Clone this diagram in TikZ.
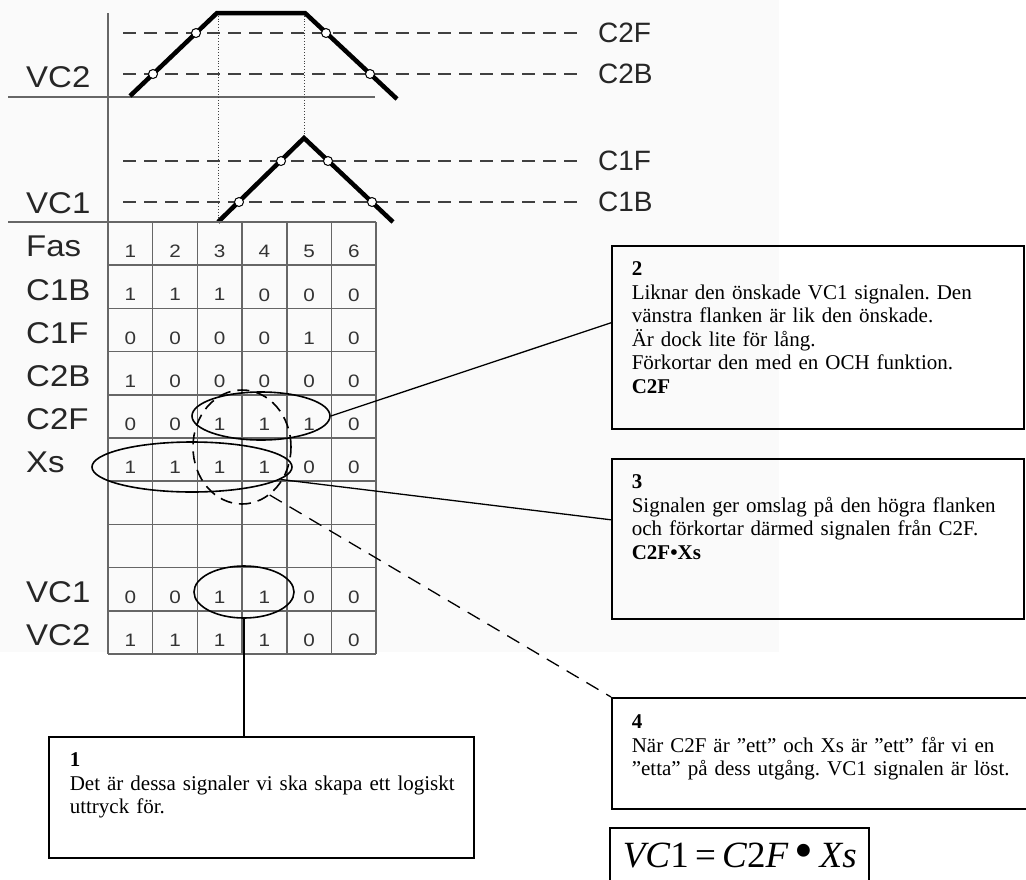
\documentclass[tikz,border=0pt]{standalone}
\usepackage{fontspec}
\setmainfont{Liberation Serif}
\newfontfamily\arial{Liberation Sans}
\usetikzlibrary{shapes.geometric,calc}
\frenchspacing
\hyphenpenalty=10000
\exhyphenpenalty=10000
\tikzset{axis/.style={draw=black!60,line width=1.5pt},
 thresh/.style={draw=black!75,line width=1.6pt,dash pattern=on 13pt off 8pt},
 wave/.style={line width=4.5pt},
 tap/.style={circle,draw,fill=white,line width=1pt,inner sep=0pt,minimum size=9pt},
 sig/.style={font=\arial\fontsize{28}{30}\selectfont,text=black!85},
 rowlbl/.style={font=\arial\fontsize{30}{32}\selectfont,text=black!85,anchor=west,inner sep=0pt},
 digit/.style={font=\arial\fontsize{18}{20}\selectfont,text=black!80,inner sep=0pt},
 ring/.style={ellipse,draw,line width=1.6pt,inner sep=0pt},
 note/.style={draw,line width=1.6pt,anchor=north west,align=left,inner xsep=20pt,inner ysep=0pt,font=\fontsize{21}{23.5}\selectfont},
 link/.style={line width=1.3pt}}

\begin{document}
\begin{tikzpicture}[x=1pt,y=-1pt]
\useasboundingbox (0,0) rectangle (1026,879);
\fill[black!2] (0,0) rectangle (779,652);

\draw[axis] (108,13) -- (108,222);
\draw[axis] (8,97) -- (375,97);
\draw[axis] (8,222) -- (108,222);
\foreach \y/\t in {33/C2F,74/C2B,161/C1F,202/C1B}{
  \draw[thresh] (123,\y) -- (577,\y);
  \node[sig,anchor=west,inner sep=0pt] (lv\t) at (598,\y) {\t};
}
\node[rowlbl] (vc2) at (26,77) {\scalebox{1.1}[1]{VC2}};
\node[rowlbl] (vc1) at (26,203) {\scalebox{1.1}[1]{VC1}};
\draw[black!75,line width=0.8pt,dotted] (218,13) -- (218,222);
\draw[black!75,line width=0.8pt,dotted] (304,13) -- (304,138);
\draw[wave] (130,96) -- (217,13) -- (305,13) -- (397,99);
\draw[wave] (218,222) -- (304,138) -- (393,222);
\foreach \x/\y [count=\k] in {196/33,153/74,326/33,370/74,281/161,239/202,328/161,372/202}
  \node[tap] (tap\k) at (\x,\y) {};

\foreach \i in {0,...,10}
  \draw[axis] (108,{222+43.2*\i}) -- (376,{222+43.2*\i});
\foreach \j in {0,...,6}
  \draw[axis] ({108+44.7*\j},222) -- ({108+44.7*\j},654);
\foreach \r/\lbl/\vals in {1/Fas/{1,2,3,4,5,6},2/C1B/{1,1,1,0,0,0},3/C1F/{0,0,0,0,1,0},
  4/C2B/{1,0,0,0,0,0},5/C2F/{0,0,1,1,1,0},6/Xs/{1,1,1,1,0,0},9/VC1/{0,0,1,1,0,0},10/VC2/{1,1,1,1,0,0}}{
  \node[rowlbl] (lbl\r) at (26,{222+43.2*(\r-0.5)+3}) {\scalebox{1.1}[1]{\lbl}};
  \foreach \v [count=\c] in \vals
    \node[digit] (d\r-\c) at ({108+44.7*(\c-0.5)},{222+43.2*(\r-0.5)+8}) {\scalebox{1.15}[1]{\v}};
}

\node[ring,minimum width=138pt,minimum height=48pt] (ringC) at (261,416) {};
\node[ring,minimum width=200pt,minimum height=50pt] (ringX) at (192,467) {};
\node[ring,dash pattern=on 12pt off 7pt,minimum width=98pt,minimum height=114pt] (ringD) at (242,447) {};
\node[ring,minimum width=100pt,minimum height=52pt] (ringV) at (244,592) {};

\node[note,text width=372pt,text height=30pt,text depth=153pt] (n2) at (611,245)
  {\textbf{2}\\Liknar den önskade VC1 signalen. Den\\vänstra flanken är lik den önskade.\\Är dock lite för lång.\\Förkortar den med en OCH funktion.\\\textbf{C2F}};
\node[note,text width=372pt,text height=30pt,text depth=130pt] (n3) at (611,458)
  {\textbf{3}\\Signalen ger omslag på den högra flanken\\och förkortar därmed signalen från C2F.\\\textbf{C2F•Xs}};
\node[note,text width=390pt,text height=31pt,text depth=80pt] (n4) at (611,697)
  {\textbf{4}\\När C2F är ”ett” och Xs är ”ett” får vi en\\”etta” på dess utgång. VC1 signalen är löst.};
\node[note,inner xsep=21pt,text width=383pt,text height=30pt,text depth=91pt] (n1) at (48,736)
  {\textbf{1}\\\mbox{Det är dessa signaler vi ska skapa ett logiskt}\\uttryck för.};
\node[note,inner xsep=13pt,text width=233pt,text height=40pt,text depth=40pt,font=\fontsize{37}{40}\selectfont] (nf) at (609,827)
  {\textit{VC}1\,=\,\textit{C}2\textit{F}\,\raisebox{-1pt}{\scalebox{1.45}{•}}\,\textit{Xs}};

\draw[link] (ringC.east) -- ([yshift=14.5pt]n2.west);
\draw[link] (ringX.-8) -- ([yshift=19pt]n3.west);
\draw[link,dash pattern=on 14pt off 9pt] (ringD.-60) -- (n4.north west);
\draw[link] (ringV.south) -- (ringV.south |- n1.north);
\end{tikzpicture}
\end{document}
